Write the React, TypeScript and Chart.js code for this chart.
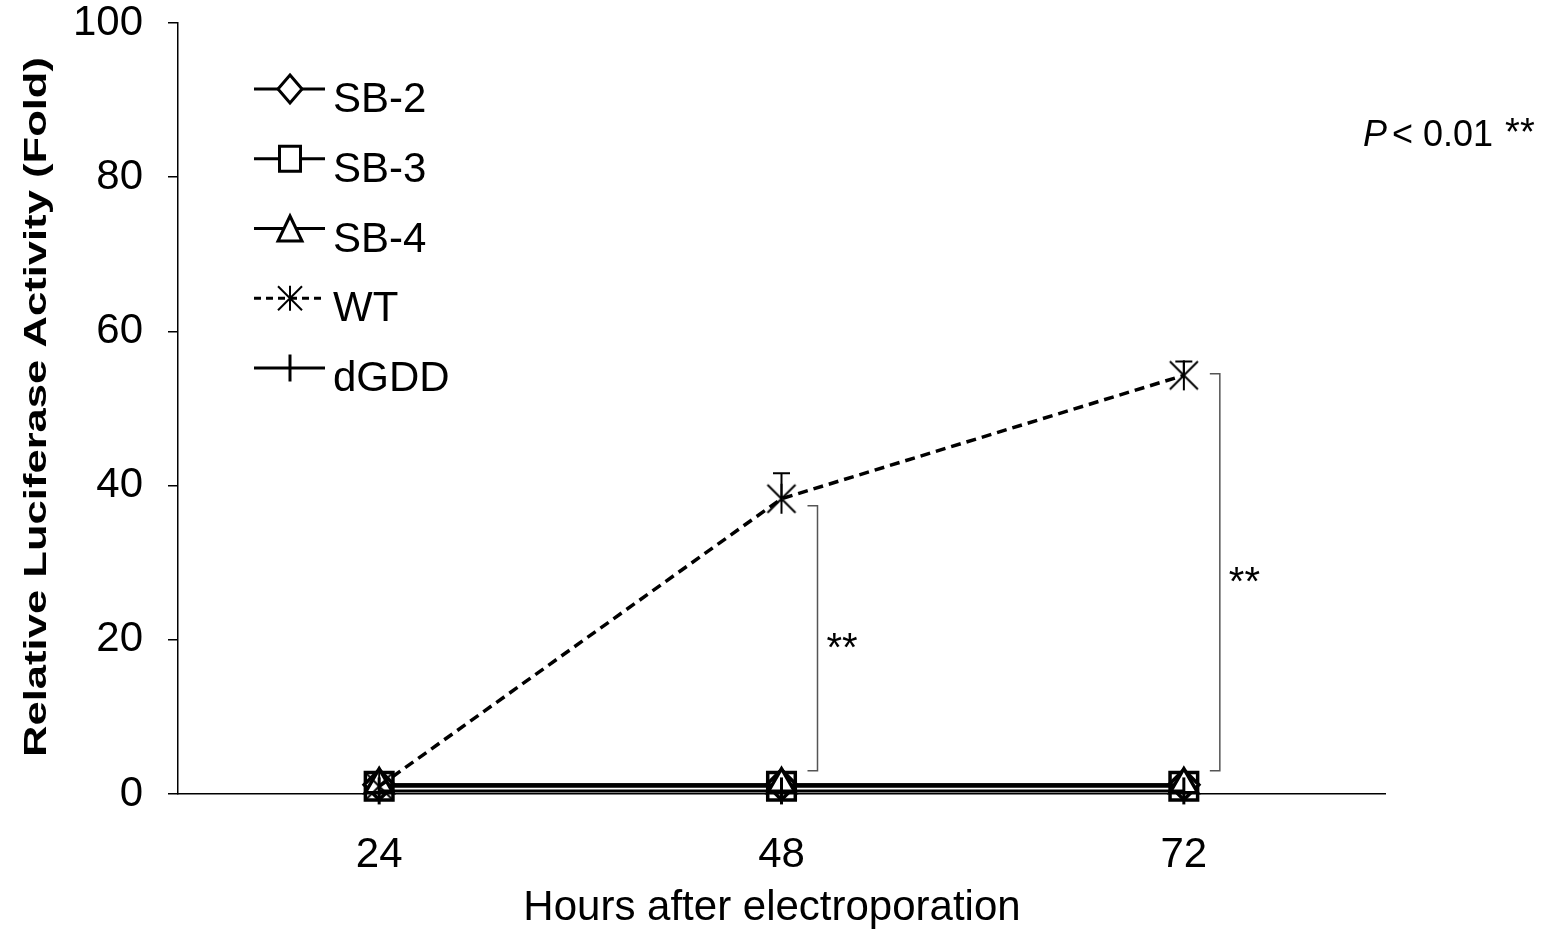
import React, { useEffect, useRef } from "react";
import { Chart, registerables } from "chart.js";

Chart.register(...registerables);

const hours = ["24", "48", "72"];
const sb2 = [1.2, 1.2, 1.2];
const sb3 = [1.0, 1.0, 1.0];
const sb4 = [1.2, 1.2, 1.2];
const wt = [1.0, 38.3, 54.3];
const wtErr = [0, 3.3, 1.8];
const dgdd = [0.4, 0.4, 0.4];
const sigTop: (number | null)[] = [null, 37.4, 54.5];
const sigBottom: (number | null)[] = [null, 3.0, 3.0];
const sigLabel: (string | null)[] = [null, "**", "**"];
const legendNames = ["SB-2", "SB-3", "SB-4", "WT", "dGDD"];
const yMin = 0;
const yMax = 100;
const yStep = 20;
const xTitle = "Hours after electroporation";
const yTitle = "Relative Luciferase Activity (Fold)";

const FONT = '"Liberation Sans", Arial, Helvetica, sans-serif';

function makeAsterisk(d: number, v: number, lw: number): HTMLCanvasElement {
  const c = document.createElement("canvas");
  const s = Math.ceil(2 * Math.max(d, v) + lw * 2 + 2);
  c.width = s;
  c.height = s;
  const g = c.getContext("2d")!;
  const m = s / 2;
  g.strokeStyle = "#000";
  g.lineWidth = lw;
  g.beginPath();
  g.moveTo(m, m - v);
  g.lineTo(m, m + v);
  g.moveTo(m - d, m - d);
  g.lineTo(m + d, m + d);
  g.moveTo(m + d, m - d);
  g.lineTo(m - d, m + d);
  g.stroke();
  return c;
}

function drawLegendMarker(ctx: CanvasRenderingContext2D, kind: number, x: number, y: number) {
  ctx.save();
  ctx.strokeStyle = "#000";
  ctx.fillStyle = "#fff";
  ctx.lineWidth = 3;
  ctx.setLineDash([]);
  ctx.beginPath();
  if (kind === 0) {
    ctx.moveTo(x, y - 14);
    ctx.lineTo(x + 12, y);
    ctx.lineTo(x, y + 14);
    ctx.lineTo(x - 12, y);
    ctx.closePath();
    ctx.fill();
    ctx.stroke();
  } else if (kind === 1) {
    ctx.rect(x - 10.5, y - 12.5, 21, 25);
    ctx.fill();
    ctx.stroke();
  } else if (kind === 2) {
    ctx.moveTo(x, y - 12.5);
    ctx.lineTo(x + 12, y + 12.5);
    ctx.lineTo(x - 12, y + 12.5);
    ctx.closePath();
    ctx.fill();
    ctx.stroke();
  } else if (kind === 3) {
    ctx.lineWidth = 2;
    ctx.moveTo(x, y - 12.5);
    ctx.lineTo(x, y + 12.5);
    ctx.moveTo(x - 12, y - 12);
    ctx.lineTo(x + 12, y + 12);
    ctx.moveTo(x + 12, y - 12);
    ctx.lineTo(x - 12, y + 12);
    ctx.stroke();
  } else {
    ctx.moveTo(x, y - 13.5);
    ctx.lineTo(x, y + 13.5);
    ctx.stroke();
  }
  ctx.restore();
}

const annotPlugin = {
  id: "annot",
  afterDatasetsDraw(chart: any) {
    const ctx: CanvasRenderingContext2D = chart.ctx;
    const xs = chart.scales.x;
    const ys = chart.scales.y;
    ctx.save();
    ctx.strokeStyle = "#000";
    ctx.lineWidth = 2;
    wt.forEach((v, i) => {
      const e = wtErr[i];
      if (!e) return;
      const x = xs.getPixelForValue(i);
      const y0 = ys.getPixelForValue(v);
      const y1 = ys.getPixelForValue(v + e);
      ctx.beginPath();
      ctx.moveTo(x, y0);
      ctx.lineTo(x, y1);
      ctx.moveTo(x - 8.5, y1);
      ctx.lineTo(x + 8.5, y1);
      ctx.stroke();
    });
    ctx.restore();
  },
  afterDraw(chart: any) {
    const ctx: CanvasRenderingContext2D = chart.ctx;
    const xs = chart.scales.x;
    const ys = chart.scales.y;

    // significance brackets
    ctx.save();
    ctx.strokeStyle = "#555";
    ctx.lineWidth = 1.5;
    ctx.fillStyle = "#000";
    sigTop.forEach((t, i) => {
      const b = sigBottom[i];
      if (t == null || b == null) return;
      const x = xs.getPixelForValue(i) + 36;
      const yt = ys.getPixelForValue(t);
      const yb = ys.getPixelForValue(b);
      ctx.beginPath();
      ctx.moveTo(x - 10, yt);
      ctx.lineTo(x, yt);
      ctx.lineTo(x, yb);
      ctx.lineTo(x - 10, yb);
      ctx.stroke();
      const lbl = sigLabel[i];
      if (lbl) {
        ctx.font = `40px ${FONT}`;
        ctx.textAlign = "left";
        ctx.textBaseline = "alphabetic";
        ctx.fillText(lbl, x + 9, (yt + yb) / 2 + 23);
      }
    });
    ctx.restore();

    // legend
    ctx.save();
    const lx0 = 254;
    const lx1 = 325;
    const mx = 290;
    legendNames.forEach((name, i) => {
      const y = 89 + i * 69.75;
      ctx.strokeStyle = "#000";
      ctx.lineWidth = 3;
      ctx.setLineDash(i === 3 ? [7, 5] : []);
      ctx.beginPath();
      ctx.moveTo(lx0, y);
      ctx.lineTo(lx1, y);
      ctx.stroke();
      ctx.setLineDash([]);
      drawLegendMarker(ctx, i, mx, y);
      ctx.fillStyle = "#000";
      ctx.font = `42px ${FONT}`;
      ctx.textAlign = "left";
      ctx.textBaseline = "alphabetic";
      ctx.fillText(name, 333, y + 23);
    });
    ctx.restore();

    // P value note
    ctx.save();
    ctx.fillStyle = "#000";
    ctx.textBaseline = "alphabetic";
    ctx.textAlign = "left";
    let px = 1363;
    ctx.font = `italic 36px ${FONT}`;
    ctx.fillText("P", px, 146);
    px += ctx.measureText("P").width + 5;
    ctx.font = `36px ${FONT}`;
    ctx.fillText("< 0.01", px, 146);
    px += ctx.measureText("< 0.01").width + 12;
    ctx.font = `38px ${FONT}`;
    ctx.fillText("**", px, 145);
    ctx.restore();

    // axis titles
    ctx.save();
    ctx.fillStyle = "#000";
    ctx.font = `42px ${FONT}`;
    ctx.textAlign = "center";
    ctx.textBaseline = "alphabetic";
    ctx.fillText(xTitle, 772, 920);
    ctx.translate(37, 407);
    ctx.rotate(-Math.PI / 2);
    ctx.font = `bold 32px ${FONT}`;
    const w = ctx.measureText(yTitle).width;
    ctx.scale(700 / w, 1);
    ctx.textBaseline = "middle";
    ctx.fillText(yTitle, 0, 0);
    ctx.restore();
  },
};

export default function App() {
  const ref = useRef<HTMLCanvasElement | null>(null);
  useEffect(() => {
    if (!ref.current) return;
    const star = makeAsterisk(14, 15, 2);
    const common = {
      borderColor: "#000",
      pointBorderColor: "#000",
      pointBackgroundColor: "#fff",
      fill: false,
      tension: 0,
      clip: false as any,
    };
    const chart = new Chart(ref.current, {
      type: "line",
      data: {
        labels: hours,
        datasets: [
          { ...common, label: "SB-3", data: sb3, order: 5, borderWidth: 3, pointStyle: "rect", pointRadius: 19.5, pointBorderWidth: 3.5 },
          { ...common, label: "SB-2", data: sb2, order: 4, borderWidth: 3, pointStyle: "rectRot", pointRadius: 15, pointBorderWidth: 3.5 },
          { ...common, label: "SB-4", data: sb4, order: 3, borderWidth: 3, pointStyle: "triangle", pointRadius: 16, pointBorderWidth: 3.5 },
          { ...common, label: "dGDD", data: dgdd, order: 2, borderWidth: 3, pointStyle: "line", rotation: 90, pointRadius: 13.5, pointBorderWidth: 3 } as any,
          { ...common, label: "WT", data: wt, order: 1, borderWidth: 3.5, borderDash: [10, 6], pointStyle: star as any, pointRadius: 15 },
        ],
      },
      options: {
        responsive: false,
        animation: false,
        events: [],
        layout: { padding: { top: 22, right: 170, left: 0, bottom: 0 } },
        plugins: { legend: { display: false }, tooltip: { enabled: false }, title: { display: false } },
        scales: {
          x: {
            type: "category",
            offset: true,
            grid: { display: false },
            border: { display: true, color: "#000", width: 1.5 },
            ticks: { color: "#000", font: { family: FONT, size: 42 }, padding: 28, maxRotation: 0 },
            afterFit: (s: any) => { s.height = 139; },
          },
          y: {
            min: yMin,
            max: yMax,
            ticks: { stepSize: yStep, color: "#000", font: { family: FONT, size: 42, lineHeight: 1 }, padding: 25 },
            grid: { drawOnChartArea: false, drawTicks: true, tickLength: 10, color: "#000", lineWidth: 1.5 },
            border: { display: true, color: "#000", width: 1.5 },
            afterFit: (s: any) => { s.width = 178; s.paddingTop = 0; s.paddingBottom = 0; },
          },
        },
      },
      plugins: [annotPlugin],
    });
    return () => chart.destroy();
  }, []);
  return (
    <div style={{ position: "absolute", left: 0, top: 0, width: 1555, height: 933, background: "#fff" }}>
      <canvas ref={ref} width={1555} height={933} style={{ width: 1555, height: 933, display: "block" }} />
    </div>
  );
}
